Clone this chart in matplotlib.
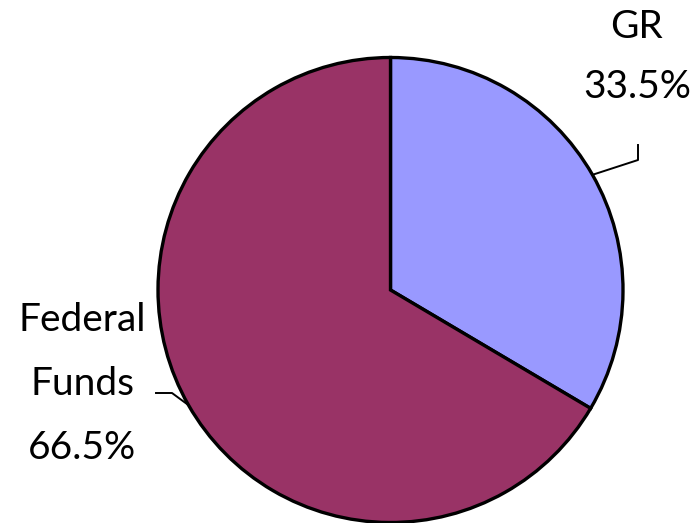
import numpy as np
import matplotlib
matplotlib.use("Agg")
import matplotlib.pyplot as plt

labels = ["GR", "Federal\nFunds"]
values = [33.5, 66.5]
colors = ["#9999FF", "#993366"]

W, H = 693, 523
fig = plt.figure(figsize=(W / 100, H / 100), dpi=100)
ax = fig.add_axes([0, 0, 1, 1])

cx, cy, r = 390.5, 233, 232.5
wedges, _ = ax.pie(values, colors=colors, startangle=90, counterclock=False,
                   center=(cx, cy), radius=r, frame=True,
                   wedgeprops=dict(edgecolor="black", linewidth=2.4))
ax.set_xlim(0, W)
ax.set_ylim(0, H)
ax.set_aspect("equal")
ax.axis("off")

font = dict(family=["Lato", "DejaVu Sans"], fontsize=28, color="black",
            fontweight="normal")

# mid angles
tot = sum(values)
mids = []
start = 90
for v in values:
    ang = start - v / tot * 360
    mids.append(np.deg2rad((start + ang) / 2))
    start = ang

# GR label
a = mids[0]
ex, ey = cx + r * np.cos(a), cy + r * np.sin(a)
ax.plot([ex, 638, 638], [ey, H - 160, H - 145], color="black", lw=1.4, zorder=5)
ax.text(637, H - 27, labels[0], ha="center", va="center", **font)
ax.text(637, H - 87, f"{values[0]}%", ha="center", va="center", **font)

# Federal label
a = mids[1]
ex, ey = cx + r * np.cos(a), cy + r * np.sin(a)
ax.plot([ex, 172, 156], [ey, H - 393, H - 393], color="black", lw=1.4, zorder=5)
fed_lines = labels[1].split("\n") + [f"{values[1]}%"]
for i, t in enumerate(fed_lines):
    ax.text(82, H - 320 - i * 64, t, ha="center", va="center", **font)

fig.savefig("out.png", dpi=100)
